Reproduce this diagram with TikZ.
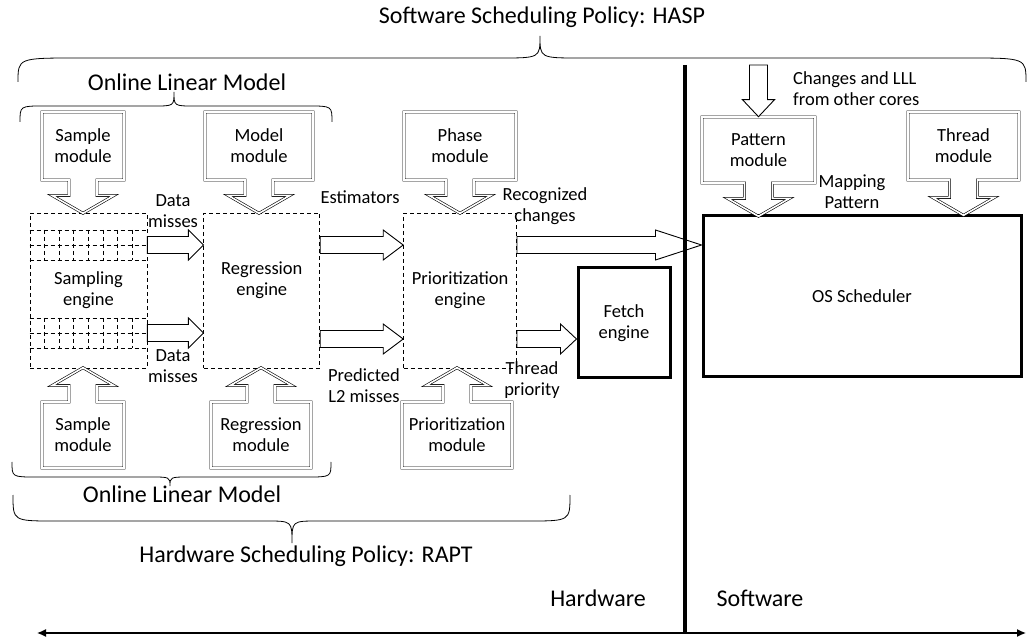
\documentclass[tikz,border=0pt]{standalone}
\usepackage{fontspec}
\setmainfont{Carlito}
\usetikzlibrary{calc, positioning, shapes.arrows, arrows.meta}

\tikzset{basic/.style={draw, line width=0.8pt}}
\tikzset{smalltext/.style={font=\fontsize{18.5}{21}\selectfont}}
\tikzset{largetext/.style={font=\fontsize{24}{28}\selectfont, inner sep=0pt}}
\tikzset{note/.style={smalltext, align=center, inner sep=0pt}}
\tikzset{module/.style={basic, smalltext, arrow box, double, double distance=1.6pt, line width=0.6pt,
    align=center, inner sep=0pt, arrow box shaft width=28pt, arrow box head extend=17pt,
    arrow box tip angle=120}}
\tikzset{engine/.style={basic, smalltext, rectangle, dash pattern=on 4pt off 3pt, align=center,
    minimum height=155pt, inner sep=0pt}}
\tikzset{unitbox/.style={draw, smalltext, rectangle, line width=3pt, align=center, inner sep=0pt}}
\tikzset{flow/.style={draw, line width=0.9pt, fill=white, line join=miter}}
\tikzset{gridline/.style={line width=0.8pt, dash pattern=on 4pt off 3pt}}

% hollow block arrow: tail, tip, head length
\newcommand\flowarrow[3]{%
  \draw[flow] ($#1+(0,-8.5)$) -- ($#2+(-#3,-8.5)$) -- ($#2+(-#3,-15)$) -- #2
    -- ($#2+(-#3,15)$) -- ($#2+(-#3,8.5)$) -- ($#1+(0,8.5)$) -- cycle;}

% curly brace: x left, x right, x tip, y ends, y arms, y tip, end bend, tip bend
\newcommand\curlybrace[8]{%
  \draw[line width=0.8pt] (#1,#4) .. controls (#1,#5) .. ({#1+#7},#5) -- ({#3-#8},#5)
    .. controls (#3,#5) .. (#3,#6) .. controls (#3,#5) .. ({#3+#8},#5)
    -- ({#2-#7},#5) .. controls (#2,#5) .. (#2,#4);}

\begin{document}
\begin{tikzpicture}[x=1pt, y=-1pt]
    \useasboundingbox (0,0) rectangle (1029,644);

    % titles and braces
    \node[largetext] (hasp) at (542,17) {Software Scheduling Policy: HASP};
    \curlybrace{18}{1026}{540}{82}{58}{36}{60}{40}
    \node[largetext] (olmtop) at (187,82) {Online Linear Model};
    \curlybrace{20}{332}{174}{122}{106}{92}{24}{20}

    \curlybrace{12}{331}{170}{462}{477}{486}{24}{20}
    \node[largetext] (olmbot) at (182,494) {Online Linear Model};
    \curlybrace{13}{570}{292}{495}{521}{543}{42}{26}
    \node[largetext] (rapt) at (306,556) {Hardware Scheduling Policy: RAPT};

    % engines
    \node[engine, minimum width=117pt] (samp) at (88.5,290.5) {Sampling\\engine};
    \node[engine, minimum width=116pt, right=56pt of samp] (regr) {};
    \node[smalltext, align=center] (regrtext) at ($(regr)+(0,-10)$) {Regression\\engine};
    \node[engine, minimum width=113pt, right=83pt of regr] (prio) {Prioritization\\engine};
    \node[unitbox, minimum width=92pt, minimum height=110pt] (fetch) at (624,323) {Fetch\\engine};
    \node[unitbox, minimum width=318pt, minimum height=161pt] (os) at (862,296.5) {OS Scheduler};

    % sample cells of the sampling engine
    \foreach \y in {230,245,260,318,333,348}
        \draw[gridline] (samp.west |- 0,\y) -- (samp.east |- 0,\y);
    \foreach \k in {1,...,7} {
        \draw[gridline] ({30+\k*14.625},230) -- ({30+\k*14.625},260);
        \draw[gridline] ({30+\k*14.625},318) -- ({30+\k*14.625},348);
    }

    % modules
    \node[module, minimum width=82pt, minimum height=68pt, arrow box arrows={south:33pt from border}] (smpT) at (83,146) {Sample\\module};
    \node[module, minimum width=108pt, minimum height=68pt, arrow box arrows={south:33pt from border}] (modT) at (259,146) {Model\\module};
    \node[module, minimum width=112pt, minimum height=68pt, arrow box arrows={south:33pt from border}] (phsT) at (460,146) {Phase\\module};
    \node[module, minimum width=113pt, minimum height=66pt, arrow box arrows={south:33pt from border}] (patT) at (758.5,150) {Pattern\\module};
    \node[module, minimum width=111pt, minimum height=68pt, arrow box arrows={south:35pt from border}] (thrT) at (963.5,146) {Thread\\module};
    \node[module, minimum width=82pt, minimum height=66pt, arrow box arrows={north:34pt from border}] (smpB) at (83,435) {Sample\\module};
    \node[module, minimum width=100pt, minimum height=66pt, arrow box arrows={north:34pt from border}] (regB) at (261,435) {Regression\\module};
    \node[module, minimum width=110pt, minimum height=66pt, arrow box arrows={north:34pt from border}] (priB) at (457,435) {Prioritization\\module};

    % data flow
    \coordinate (upper) at (0,245);
    \coordinate (lower) at (0,333);
    \coordinate (lowest) at (0,339);
    \flowarrow{(samp.east |- upper)}{(regr.west |- upper)}{15}
    \flowarrow{(samp.east |- lower)}{(regr.west |- lower)}{15}
    \flowarrow{(regr.east |- upper)}{(prio.west |- upper)}{20}
    \flowarrow{(regr.east |- lowest)}{(prio.west |- lowest)}{20}
    \flowarrow{(prio.east |- upper)}{(os.west |- upper)}{46}
    \flowarrow{(prio.east |- lowest)}{(fetch.west |- lowest)}{16}

    % input from the other cores
    \coordinate (chgtail) at (patT.north |- 0,65);
    \coordinate (chgtip) at (patT.north);
    \draw[flow] ($(chgtail)+(-9,0)$) -- ($(chgtip)+(-9,-17)$) -- ($(chgtip)+(-16,-17)$) -- (chgtip)
        -- ($(chgtip)+(16,-17)$) -- ($(chgtip)+(9,-17)$) -- ($(chgtail)+(9,0)$) -- cycle;

    % labels
    \node[note] (data1) at (173,211) {Data\\misses};
    \node[note] (data2) at (173,366) {Data\\misses};
    \node[note] (estim) at (360,197) {Estimators};
    \node[note] (recog) at (545,206) {Recognized\\changes};
    \node[note] (pred) at (364,386) {Predicted\\L2 misses};
    \node[note] (thrp) at (532,380) {Thread\\priority};
    \node[note] (mapp) at (852,192) {Mapping\\Pattern};
    \node[note, align=left, anchor=west] (chg) at (793,89) {Changes and LLL\\from other cores};

    % hardware / software split
    \coordinate (divtop) at (685,65);
    \coordinate (leftend) at (37,633);
    \coordinate (rightend) at (1026,633);
    \draw[line width=4pt] (divtop) -- (divtop |- leftend);
    \draw[line width=1.3pt, {Latex[length=9pt,width=8pt]}-{Latex[length=9pt,width=8pt]}] (leftend) -- (rightend);
    \node[largetext] (hw) at (598,598) {Hardware};
    \node[largetext] (sw) at (760,598) {Software};

\end{tikzpicture}
\end{document}
